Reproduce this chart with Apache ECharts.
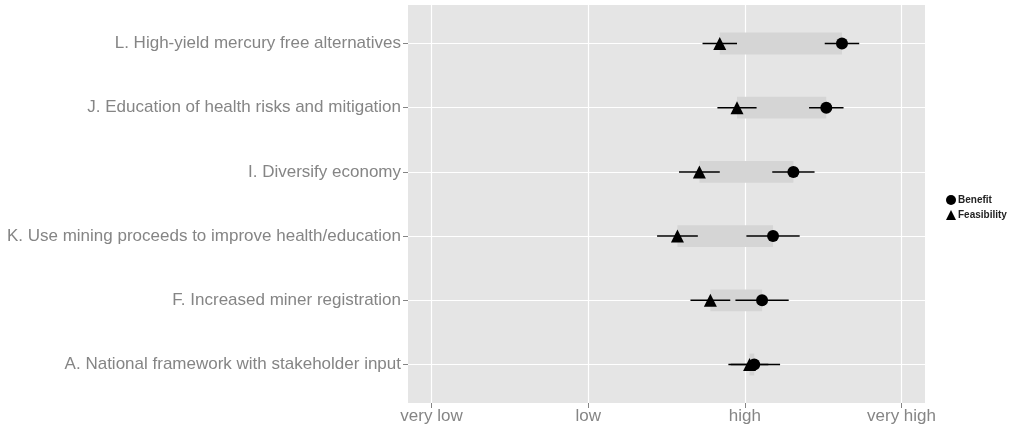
<!DOCTYPE html>
<html>
<head>
<meta charset="utf-8">
<script src="https://cdn.jsdelivr.net/npm/echarts@6/dist/echarts.min.js"></script>
<style>
  html, body { margin: 0; padding: 0; background: #fff; }
  #chart { width: 1029px; height: 432px; }
</style>
</head>
<body>
<div id="chart"></div>
<script>
// Interventions, listed top to bottom
const categories = [
  'L. High-yield mercury free alternatives',
  'J. Education of health risks and mitigation',
  'I. Diversify economy',
  'K. Use mining proceeds to improve health/education',
  'F. Increased miner registration',
  'A. National framework with stakeholder input'
];
// Mean ratings on a 1 (very low) .. 4 (very high) scale, with error half-widths
const benefit = [3.62, 3.52, 3.31, 3.18, 3.11, 3.06];
const benefitErr = [0.11, 0.11, 0.135, 0.17, 0.17, 0.165];
const feasibility = [2.84, 2.95, 2.71, 2.57, 2.78, 3.03];
const feasibilityErr = [0.11, 0.125, 0.13, 0.13, 0.127, 0.12];
// Rating scale ticks
const xTicks = [1, 2, 3, 4];
const xTickLabels = ['very low', 'low', 'high', 'very high'];

const rowIdx = categories.map((_, i) => i + 1);
const axisGrey = '#858585';
const font = '"Liberation Sans", Arial, sans-serif';

// band between the two ratings of each row
const bandData = rowIdx.map((y, i) => [Math.min(benefit[i], feasibility[i]), Math.max(benefit[i], feasibility[i]), y]);
const errData = [];
rowIdx.forEach((y, i) => {
  errData.push([benefit[i] - benefitErr[i], benefit[i] + benefitErr[i], y]);
  errData.push([feasibility[i] - feasibilityErr[i], feasibility[i] + feasibilityErr[i], y]);
});

const chart = echarts.init(document.getElementById('chart'), null, { renderer: 'canvas' });
chart.setOption({
  animation: false,
  backgroundColor: '#ffffff',
  grid: { left: 408, right: 104, top: 5, bottom: 29, show: true, backgroundColor: '#e5e5e5', borderWidth: 0 },
  legend: {
    orient: 'vertical',
    left: 941,
    top: 190,
    itemWidth: 10,
    itemHeight: 10,
    itemGap: 5,
    data: [
      { name: 'Benefit', icon: 'circle' },
      { name: 'Feasibility', icon: 'triangle' }
    ],
    textStyle: { color: '#222', fontSize: 10, fontWeight: 'bold', fontFamily: font, padding: [0, 0, 0, -3] }
  },
  xAxis: {
    type: 'value',
    min: 0.85,
    max: 4.15,
    axisLine: { show: false },
    axisTick: { show: true, customValues: xTicks, length: 5, lineStyle: { color: axisGrey } },
    axisLabel: {
      customValues: xTicks,
      color: axisGrey, fontSize: 17, fontFamily: font, margin: 5,
      formatter: v => xTickLabels[xTicks.indexOf(Math.round(v))] || ''
    },
    splitLine: { show: true, lineStyle: { color: '#ffffff', width: 1.2 } }
  },
  yAxis: {
    type: 'value',
    inverse: true,
    min: 0.4,
    max: 6.6,
    axisLine: { show: false },
    axisTick: { show: true, customValues: rowIdx, length: 5, lineStyle: { color: axisGrey } },
    axisLabel: {
      customValues: rowIdx,
      color: axisGrey, fontSize: 17, fontFamily: font, margin: 7,
      formatter: v => categories[Math.round(v) - 1] || ''
    },
    splitLine: { show: true, lineStyle: { color: '#ffffff', width: 1.2 } }
  },
  series: [
    {
      type: 'custom', name: 'band', silent: true,
      data: bandData,
      encode: { x: [0, 1], y: 2 },
      renderItem: (params, api) => {
        const a = api.coord([api.value(0), api.value(2)]);
        const b = api.coord([api.value(1), api.value(2)]);
        const h = api.size([0, 0.34])[1];
        return { type: 'rect', shape: { x: a[0], y: a[1] - h / 2, width: b[0] - a[0], height: h }, style: { fill: '#d5d5d5' } };
      },
      z: 1
    },
    {
      type: 'custom', name: 'errors', silent: true,
      data: errData,
      encode: { x: [0, 1], y: 2 },
      renderItem: (params, api) => {
        const a = api.coord([api.value(0), api.value(2)]);
        const b = api.coord([api.value(1), api.value(2)]);
        return { type: 'line', shape: { x1: a[0], y1: a[1], x2: b[0], y2: b[1] }, style: { stroke: '#000', lineWidth: 1.5 } };
      },
      z: 2
    },
    {
      type: 'scatter', name: 'Benefit', symbol: 'circle', symbolSize: 12,
      itemStyle: { color: '#000', opacity: 1 },
      data: benefit.map((v, i) => [v, rowIdx[i]]),
      z: 3
    },
    {
      type: 'scatter', name: 'Feasibility', symbol: 'triangle', symbolSize: 13,
      itemStyle: { color: '#000', opacity: 1 },
      data: feasibility.map((v, i) => [v, rowIdx[i]]),
      z: 3
    }
  ]
});
</script>
</body>
</html>
